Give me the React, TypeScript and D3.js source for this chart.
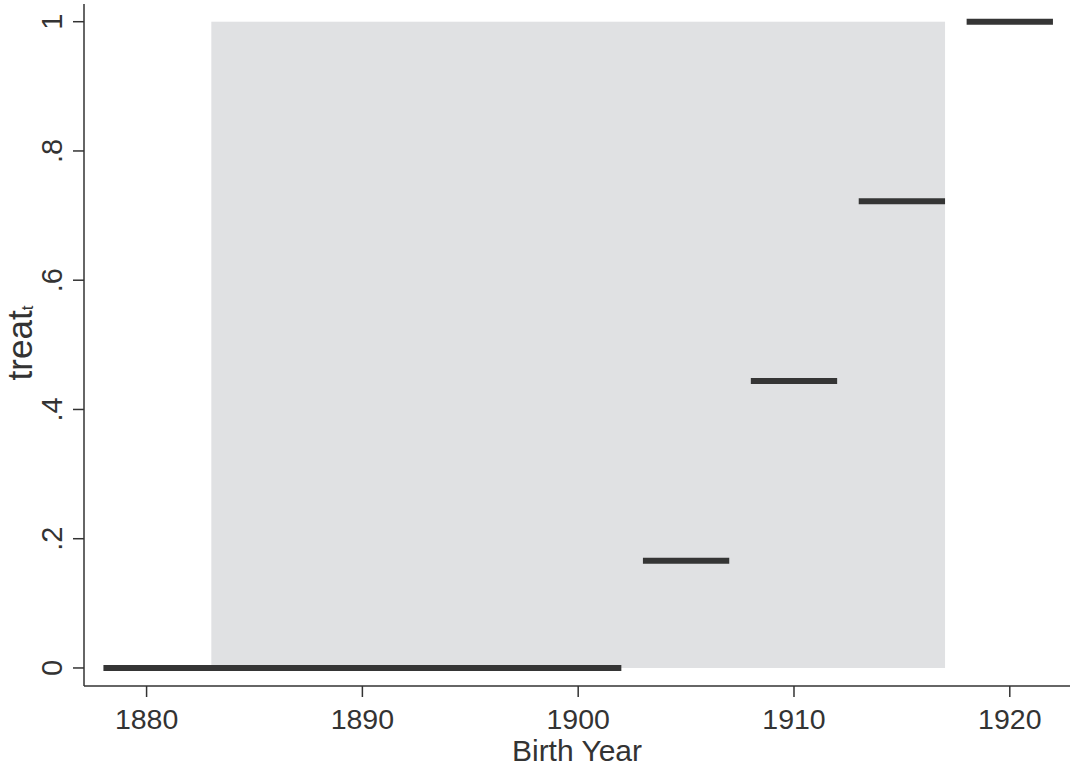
import * as d3 from "d3";

// cohort steps: birth-year span and share treated
const stepStart = [1878, 1903, 1908, 1913, 1918];
const stepEnd = [1902, 1907, 1912, 1917, 1922];
const stepValue = [0, 0.166, 0.444, 0.722, 1];

// shaded window of birth years
const shadeYears = [1883, 1917];

const xTicks = [1880, 1890, 1900, 1910, 1920];
const yTicks = [0, 0.2, 0.4, 0.6, 0.8, 1];
const yTickLabels = ["0", ".2", ".4", ".6", ".8", "1"];

const W = 1075;
const H = 766;
const font = "'Liberation Sans', Arial, sans-serif";

export default function App() {
  const x = d3.scaleLinear().domain([1877.1, 1922.79]).range([84, 1070]);
  const y = d3.scaleLinear().domain([-0.0279, 1.0274]).range([686, 4]);

  const axisColor = "#333";

  return (
    <svg
      width={W}
      height={H}
      style={{ position: "absolute", left: 0, top: 0, background: "#fff" }}
    >
      {/* shaded region */}
      <rect
        x={x(shadeYears[0])}
        y={y(1)}
        width={x(shadeYears[1]) - x(shadeYears[0])}
        height={y(0) - y(1)}
        fill="#e0e1e3"
      />

      {/* step segments */}
      {stepValue.map((v, i) => (
        <line
          key={i}
          x1={x(stepStart[i])}
          x2={x(stepEnd[i])}
          y1={y(v)}
          y2={y(v)}
          stroke="#353535"
          strokeWidth={6}
        />
      ))}

      {/* y axis */}
      <line x1={84} x2={84} y1={y.range()[1]} y2={686} stroke={axisColor} strokeWidth={1.5} />
      {yTicks.map((t, i) => (
        <g key={t}>
          <line x1={73} x2={84} y1={y(t)} y2={y(t)} stroke={axisColor} strokeWidth={1.5} />
          <text
            transform={`translate(62,${y(t)}) rotate(-90)`}
            textAnchor="middle"
            fontFamily={font}
            fontSize={29}
            fill="#333"
          >
            {yTickLabels[i]}
          </text>
        </g>
      ))}

      {/* x axis */}
      <line x1={84} x2={x.range()[1]} y1={686} y2={686} stroke={axisColor} strokeWidth={1.5} />
      {xTicks.map((t) => (
        <g key={t}>
          <line x1={x(t)} x2={x(t)} y1={686} y2={697} stroke={axisColor} strokeWidth={1.5} />
          <text
            x={x(t)}
            y={729}
            textAnchor="middle"
            fontFamily={font}
            fontSize={28.5}
            fill="#333"
          >
            {t}
          </text>
        </g>
      ))}

      {/* axis titles */}
      <text
        x={577}
        y={761}
        textAnchor="middle"
        fontFamily={font}
        fontSize={30}
        fill="#333"
      >
        Birth Year
      </text>
      <text
        transform={`translate(32,343) rotate(-90)`}
        textAnchor="middle"
        fontFamily={font}
        fontSize={35}
        fill="#333"
      >
        treat
        <tspan fontSize={17} dy={1}>t</tspan>
      </text>
    </svg>
  );
}
